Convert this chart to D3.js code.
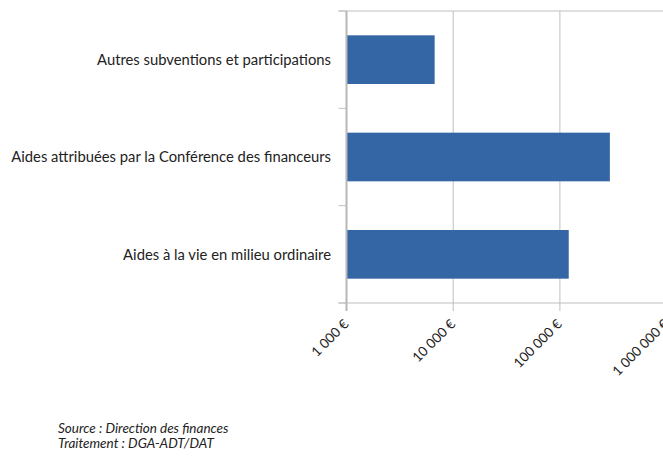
<!DOCTYPE html>
<html>
<head>
<meta charset="utf-8">
<script src="https://cdn.jsdelivr.net/npm/d3@7"></script>
<style>
  body { margin: 0; background: #fff; }
  svg { display: block; font-family: Lato, "Open Sans", sans-serif; }
</style>
</head>
<body>
<svg id="chart"></svg>
<script>
// categories top -> bottom
var categories = [
  "Autres subventions et participations",
  "Aides attribuées par la Conférence des financeurs",
  "Aides à la vie en milieu ordinaire"
];
var values = [6700, 294000, 121000]; // euros
var tickValues = [1000, 10000, 100000, 1000000];
var notes = ["Source : Direction des finances", "Traitement : DGA-ADT/DAT"];

var width = 663, height = 457;
var plotLeft = 346.5, plotTop = 11, plotBottom = 303;

var svg = d3.select("#chart").attr("width", width).attr("height", height);

var x = d3.scaleLog().domain([1000, 1000000]).range([plotLeft, plotLeft + 3 * 106.7]);
var y = d3.scaleBand().domain(categories).range([plotTop, plotBottom]).paddingInner(0.5).paddingOuter(0.25);

var locale = d3.formatLocale({ decimal: ",", thousands: " ", grouping: [3], currency: ["", ""] });
var fmt = locale.format(",d");

// gridlines
svg.append("g").selectAll("line")
  .data(tickValues)
  .enter().append("line")
  .attr("x1", d => x(d)).attr("x2", d => x(d))
  .attr("y1", plotTop).attr("y2", plotBottom + 8)
  .attr("stroke", "#c0c0c0").attr("stroke-width", 1);

// top border line
svg.append("line")
  .attr("x1", plotLeft - 8).attr("x2", width)
  .attr("y1", plotTop).attr("y2", plotTop)
  .attr("stroke", "#c0c0c0");

// bottom axis line
svg.append("line")
  .attr("x1", plotLeft - 8).attr("x2", width)
  .attr("y1", plotBottom).attr("y2", plotBottom)
  .attr("stroke", "#bdbdbd");

// left ticks at band boundaries
var step = (plotBottom - plotTop) / categories.length;
svg.append("g").selectAll("line")
  .data(d3.range(categories.length + 1))
  .enter().append("line")
  .attr("x1", plotLeft - 8).attr("x2", plotLeft)
  .attr("y1", i => plotTop + i * step).attr("y2", i => plotTop + i * step)
  .attr("stroke", "#c0c0c0");

// bars
svg.append("g").selectAll("rect")
  .data(values)
  .enter().append("rect")
  .attr("x", x(1000))
  .attr("y", (d, i) => y(categories[i]))
  .attr("width", d => x(d) - x(1000))
  .attr("height", y.bandwidth())
  .attr("fill", "#3465a4");

// left axis line
svg.append("line")
  .attr("x1", plotLeft).attr("x2", plotLeft)
  .attr("y1", plotTop).attr("y2", plotBottom + 8)
  .attr("stroke", "#b8b8b8").attr("stroke-width", 2);

// category labels
svg.append("g").selectAll("text")
  .data(categories)
  .enter().append("text")
  .attr("x", 331)
  .attr("y", d => y(d) + y.bandwidth() / 2)
  .attr("dy", "0.35em")
  .attr("text-anchor", "end")
  .attr("font-size", "14.8px")
  .attr("fill", "#222")
  .text(d => d);

// x tick labels, rotated
svg.append("g").selectAll("text")
  .data(tickValues)
  .enter().append("text")
  .attr("transform", d => "translate(" + (x(d) + 3) + "," + (plotBottom + 22) + ")rotate(-45)")
  .attr("text-anchor", "end")
  .attr("font-size", "13.5px")
  .attr("fill", "#222")
  .text(d => fmt(d) + " €");

// footnotes
svg.append("g").selectAll("text")
  .data(notes)
  .enter().append("text")
  .attr("x", 58)
  .attr("y", (d, i) => 433 + i * 15)
  .attr("font-size", "13.5px")
  .attr("font-style", "italic")
  .attr("fill", "#222")
  .text(d => d);
</script>
</body>
</html>
